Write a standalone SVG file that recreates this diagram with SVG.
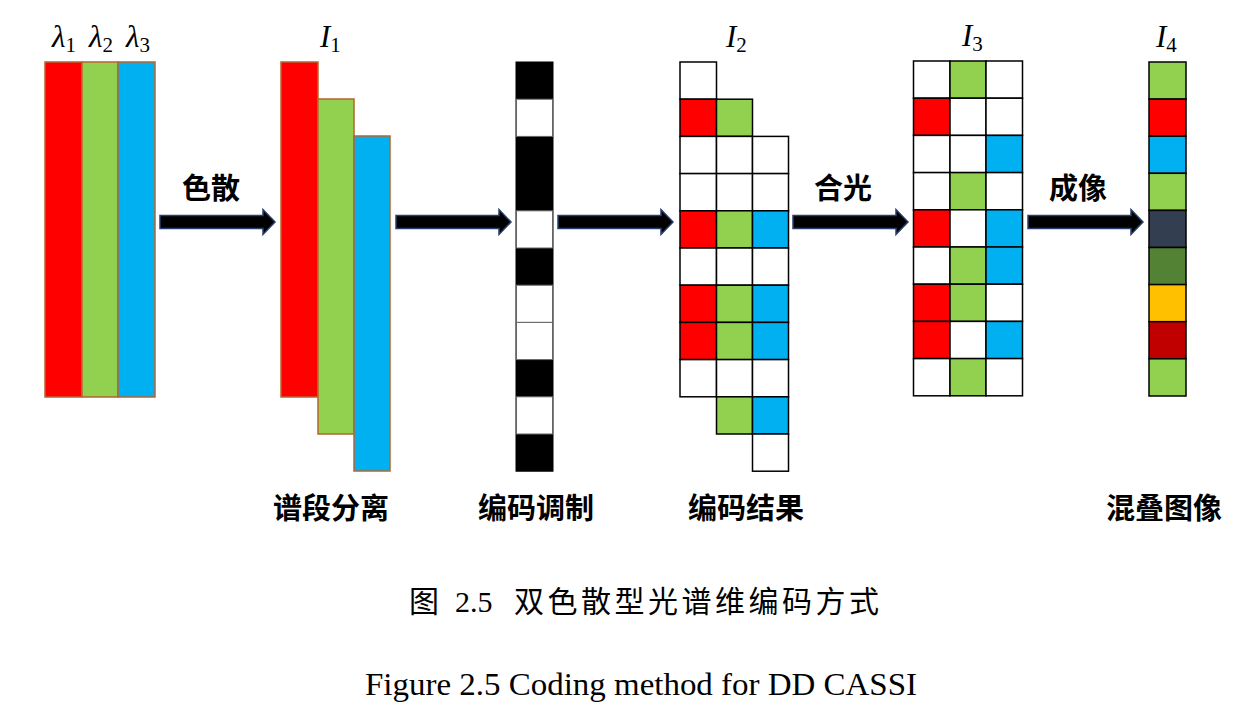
<svg xmlns="http://www.w3.org/2000/svg" width="1237" height="713" viewBox="0 0 1237 713">
<style>
.r{fill:#FF0000}.g{fill:#92D050}.b{fill:#00B0F0}.w{fill:#FFFFFF}.k{fill:#000000}
.band{stroke:#B5652F;stroke-width:1.5}
.cell rect{stroke:#000;stroke-width:1.5}
.arrow{fill:#000;stroke:#2A3F6E;stroke-width:1.5}
.lbl{font-family:"Noto Sans CJK SC",sans-serif;font-weight:bold;font-size:29px;fill:#000}
.math{font-family:"Liberation Serif",serif;font-style:italic;font-size:31px;fill:#000}
.sub{font-style:normal;font-size:21px}
.cap{font-family:"Liberation Serif","Noto Sans CJK SC",serif;fill:#000}
.cjk{font-family:"Noto Sans CJK SC",sans-serif;font-size:30px;fill:#000}
</style>
<defs>
<polygon id="arr" points="0,-6.5 103,-6.5 103,-12.5 115,0 103,12.5 103,6.5 0,6.5"/>
</defs>
<rect width="1237" height="713" fill="#fff"/>

<g id="spectrum">
<rect class="r band" x="45" y="62" width="37" height="335"/>
<rect class="g band" x="82" y="62" width="36" height="335"/>
<rect class="b band" x="118" y="62" width="37" height="335"/>
<text class="math" x="52" y="47">λ<tspan class="sub" dy="5">1</tspan></text>
<text class="math" x="89" y="47">λ<tspan class="sub" dy="5">2</tspan></text>
<text class="math" x="126" y="47">λ<tspan class="sub" dy="5">3</tspan></text>
</g>

<g id="I1">
<rect class="r band" x="281" y="62" width="37" height="335"/>
<rect class="g band" x="318" y="99" width="36" height="335"/>
<rect class="b band" x="354" y="136" width="36" height="335"/>
<text class="math" x="320" y="47">I<tspan class="sub" dy="5">1</tspan></text>
<text class="lbl" x="331" y="519" text-anchor="middle">谱段分离</text>
</g>

<g id="mask">
<rect class="k" x="516" y="62" width="37" height="409.2" stroke="#000" stroke-width="1"/>
<g fill="#fff" stroke="#666" stroke-width="1">
<rect x="516.5" y="99.2" width="36" height="37.2"/>
<rect x="516.5" y="210.8" width="36" height="37.2"/>
<rect x="516.5" y="285.2" width="36" height="37.2"/>
<rect x="516.5" y="322.4" width="36" height="37.2"/>
<rect x="516.5" y="396.8" width="36" height="37.2"/>
</g>
<text class="lbl" x="536" y="519" text-anchor="middle">编码调制</text>
</g>

<g id="I2" class="cell">
<rect class="w" x="680" y="62" width="36.5" height="37.2"/>
<rect class="r" x="680" y="99.2" width="36.5" height="37.2"/>
<rect class="g" x="716.5" y="99.2" width="36" height="37.2"/>
<rect class="w" x="680" y="136.4" width="36.5" height="37.2"/>
<rect class="w" x="716.5" y="136.4" width="36" height="37.2"/>
<rect class="w" x="752.5" y="136.4" width="36" height="37.2"/>
<rect class="w" x="680" y="173.6" width="36.5" height="37.2"/>
<rect class="w" x="716.5" y="173.6" width="36" height="37.2"/>
<rect class="w" x="752.5" y="173.6" width="36" height="37.2"/>
<rect class="r" x="680" y="210.8" width="36.5" height="37.2"/>
<rect class="g" x="716.5" y="210.8" width="36" height="37.2"/>
<rect class="b" x="752.5" y="210.8" width="36" height="37.2"/>
<rect class="w" x="680" y="248" width="36.5" height="37.2"/>
<rect class="w" x="716.5" y="248" width="36" height="37.2"/>
<rect class="w" x="752.5" y="248" width="36" height="37.2"/>
<rect class="r" x="680" y="285.2" width="36.5" height="37.2"/>
<rect class="g" x="716.5" y="285.2" width="36" height="37.2"/>
<rect class="b" x="752.5" y="285.2" width="36" height="37.2"/>
<rect class="r" x="680" y="322.4" width="36.5" height="37.2"/>
<rect class="g" x="716.5" y="322.4" width="36" height="37.2"/>
<rect class="b" x="752.5" y="322.4" width="36" height="37.2"/>
<rect class="w" x="680" y="359.6" width="36.5" height="37.2"/>
<rect class="w" x="716.5" y="359.6" width="36" height="37.2"/>
<rect class="w" x="752.5" y="359.6" width="36" height="37.2"/>
<rect class="g" x="716.5" y="396.8" width="36" height="37.2"/>
<rect class="b" x="752.5" y="396.8" width="36" height="37.2"/>
<rect class="w" x="752.5" y="434" width="36" height="37.2"/>
<text class="math" x="726" y="47" stroke="none">I<tspan class="sub" dy="5">2</tspan></text>
<text class="lbl" x="746" y="519" text-anchor="middle" stroke="none">编码结果</text>
</g>

<g id="I3" class="cell">
<rect class="w" x="913.5" y="61" width="36.5" height="37.2"/><rect class="g" x="950" y="61" width="36" height="37.2"/><rect class="w" x="986" y="61" width="36.5" height="37.2"/>
<rect class="r" x="913.5" y="98.2" width="36.5" height="37.2"/><rect class="w" x="950" y="98.2" width="36" height="37.2"/><rect class="w" x="986" y="98.2" width="36.5" height="37.2"/>
<rect class="w" x="913.5" y="135.4" width="36.5" height="37.2"/><rect class="w" x="950" y="135.4" width="36" height="37.2"/><rect class="b" x="986" y="135.4" width="36.5" height="37.2"/>
<rect class="w" x="913.5" y="172.6" width="36.5" height="37.2"/><rect class="g" x="950" y="172.6" width="36" height="37.2"/><rect class="w" x="986" y="172.6" width="36.5" height="37.2"/>
<rect class="r" x="913.5" y="209.8" width="36.5" height="37.2"/><rect class="w" x="950" y="209.8" width="36" height="37.2"/><rect class="b" x="986" y="209.8" width="36.5" height="37.2"/>
<rect class="w" x="913.5" y="247" width="36.5" height="37.2"/><rect class="g" x="950" y="247" width="36" height="37.2"/><rect class="b" x="986" y="247" width="36.5" height="37.2"/>
<rect class="r" x="913.5" y="284.2" width="36.5" height="37.2"/><rect class="g" x="950" y="284.2" width="36" height="37.2"/><rect class="w" x="986" y="284.2" width="36.5" height="37.2"/>
<rect class="r" x="913.5" y="321.4" width="36.5" height="37.2"/><rect class="w" x="950" y="321.4" width="36" height="37.2"/><rect class="b" x="986" y="321.4" width="36.5" height="37.2"/>
<rect class="w" x="913.5" y="358.6" width="36.5" height="37.2"/><rect class="g" x="950" y="358.6" width="36" height="37.2"/><rect class="w" x="986" y="358.6" width="36.5" height="37.2"/>
<text class="math" x="962" y="46" stroke="none">I<tspan class="sub" dy="5">3</tspan></text>
</g>

<g id="I4" class="cell">
<rect class="g" x="1149" y="62" width="37" height="37.1"/>
<rect class="r" x="1149" y="99.1" width="37" height="37.1"/>
<rect class="b" x="1149" y="136.2" width="37" height="37.1"/>
<rect class="g" x="1149" y="173.3" width="37" height="37.1"/>
<rect x="1149" y="210.4" width="37" height="37.1" fill="#333F50"/>
<rect x="1149" y="247.5" width="37" height="37.1" fill="#548235"/>
<rect x="1149" y="284.6" width="37" height="37.1" fill="#FFC000"/>
<rect x="1149" y="321.7" width="37" height="37.1" fill="#C00000"/>
<rect class="g" x="1149" y="358.8" width="37" height="37.2"/>
<text class="math" x="1156" y="47" stroke="none">I<tspan class="sub" dy="5">4</tspan></text>
<text class="lbl" x="1164" y="519" text-anchor="middle" stroke="none">混叠图像</text>
</g>

<g id="connectors">
<use href="#arr" class="arrow" x="160" y="222"/>
<use href="#arr" class="arrow" x="396" y="222"/>
<use href="#arr" class="arrow" x="558" y="222"/>
<use href="#arr" class="arrow" x="793" y="222"/>
<use href="#arr" class="arrow" x="1028" y="222"/>
<text class="lbl" x="211" y="199" text-anchor="middle">色散</text>
<text class="lbl" x="843" y="199" text-anchor="middle">合光</text>
<text class="lbl" x="1078" y="199" text-anchor="middle">成像</text>
</g>

<g id="caption">
<text class="cjk" x="409" y="612">图</text>
<text class="cap" x="455" y="612" font-size="30">2.5</text>
<text class="cjk" x="514" y="612" textLength="365" lengthAdjust="spacing">双色散型光谱维编码方式</text>
<text class="cap" x="365" y="695" font-size="32" textLength="552" lengthAdjust="spacingAndGlyphs">Figure 2.5 Coding method for DD CASSI</text>
</g>
</svg>
